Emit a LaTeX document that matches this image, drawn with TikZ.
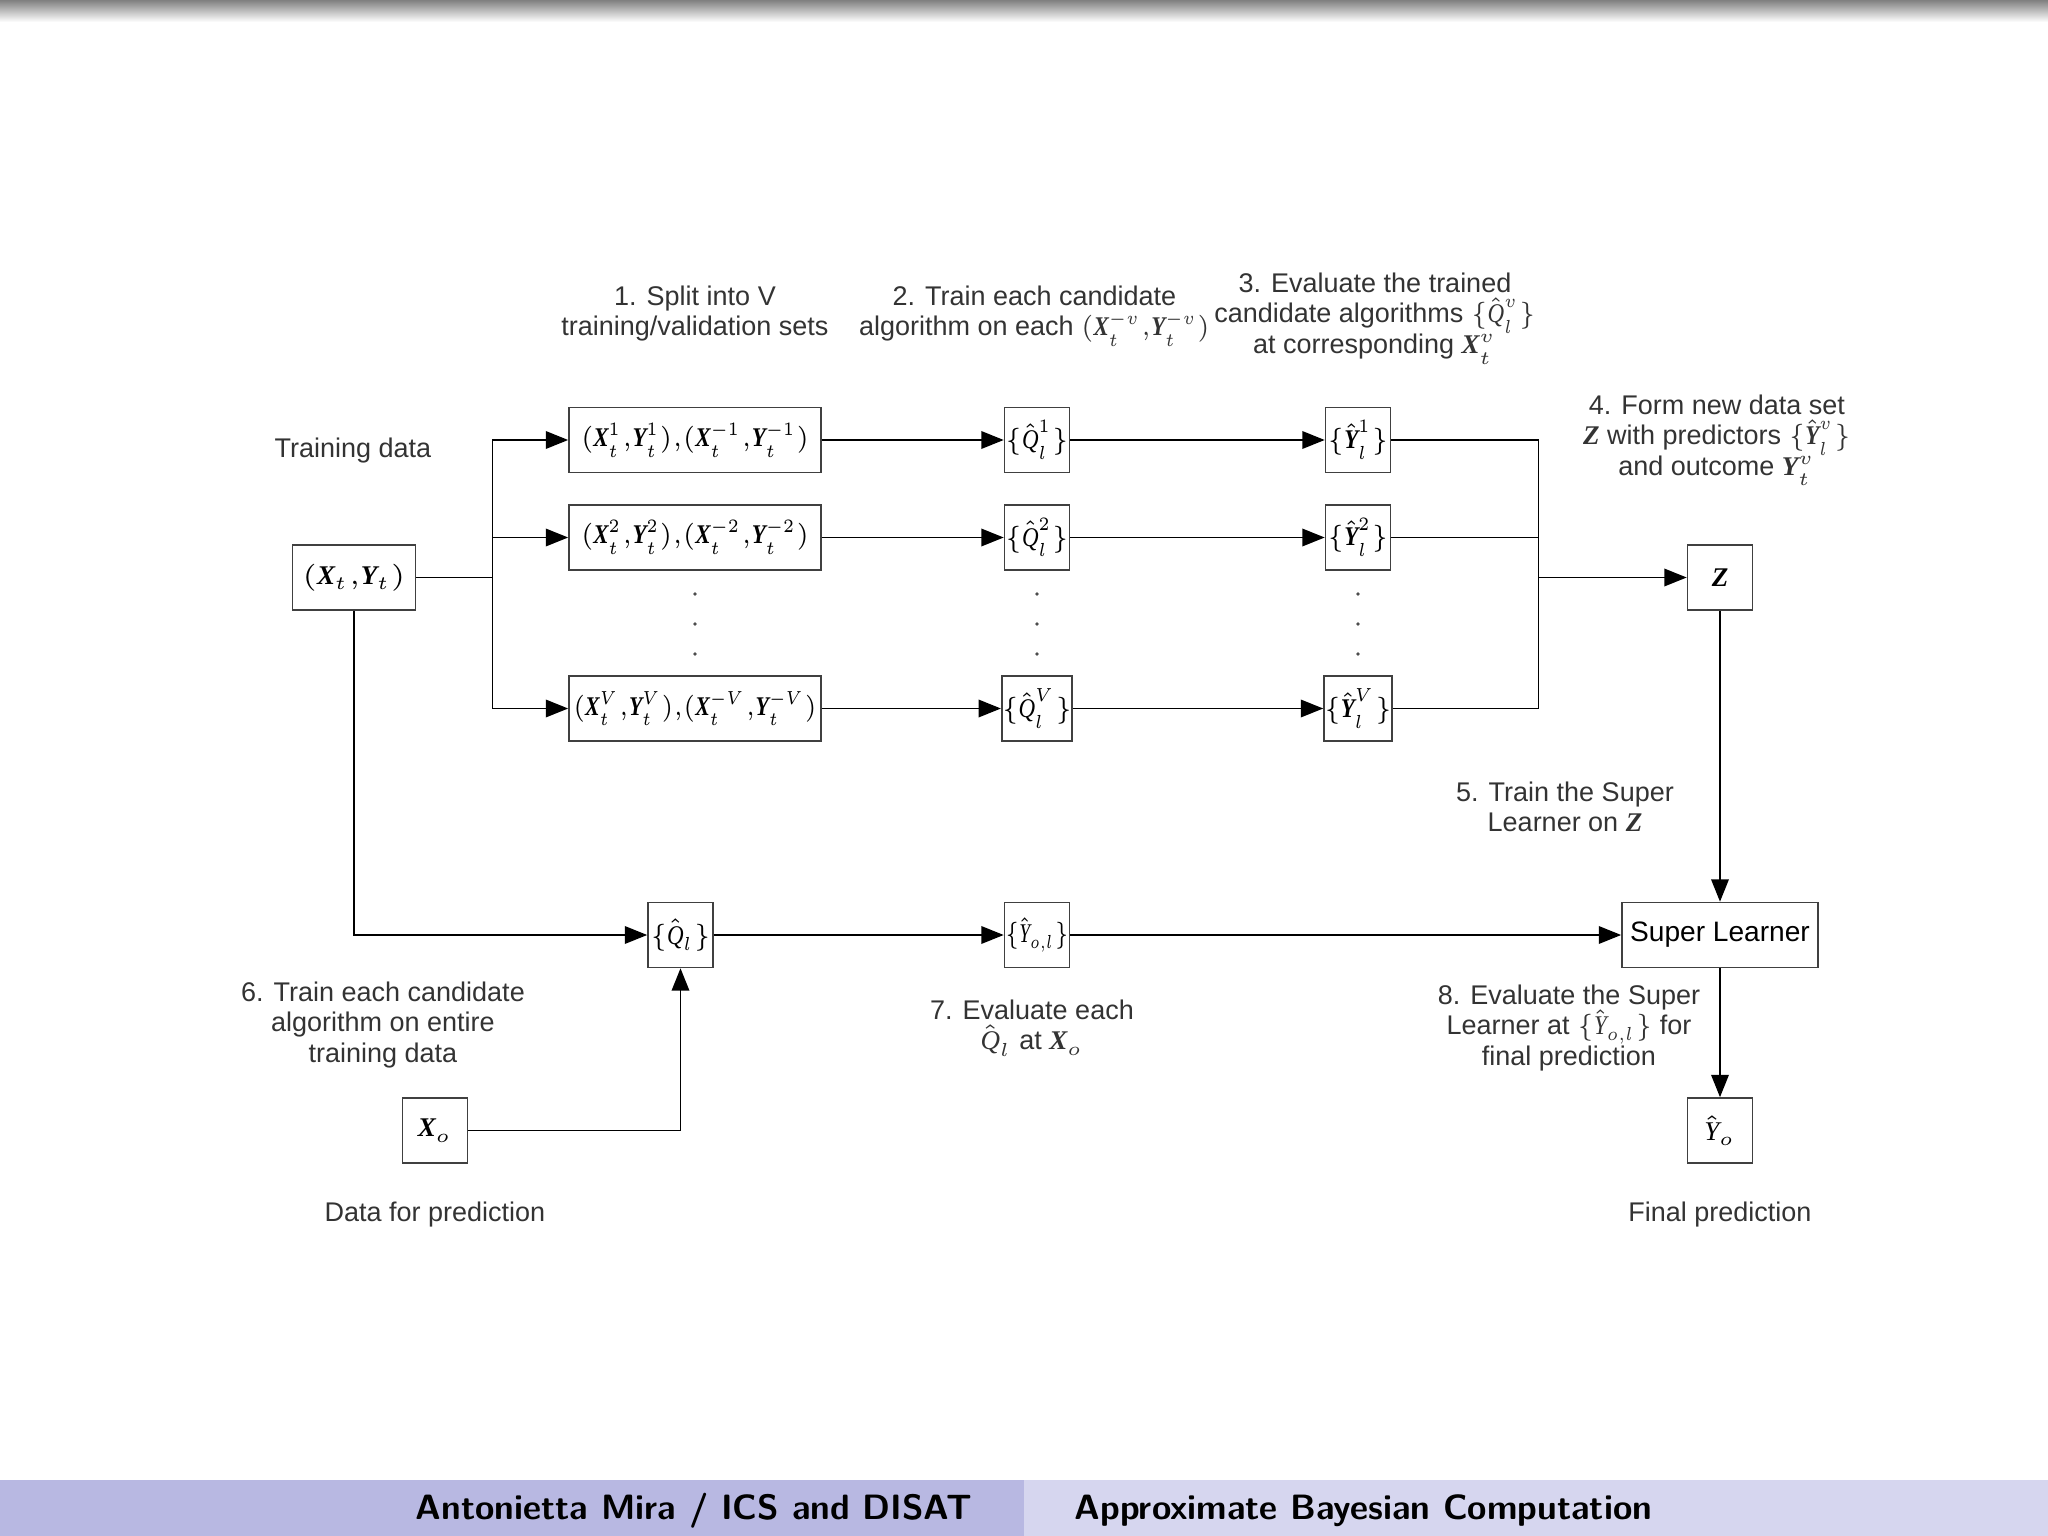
\RequirePackage{fix-cm}
\documentclass[tikz,border=0pt]{standalone}
\usepackage{fontspec}
\setmainfont{Liberation Sans}
\newfontfamily\serifmath{Liberation Serif}
\usepackage{amsmath}
\usepackage{graphicx}
\usetikzlibrary{arrows.meta}

\newcommand{\bv}[1]{\mbox{\serifmath\bfseries\itshape #1}}
\newcommand{\iv}[1]{\mbox{\serifmath\itshape #1}}
\newcommand{\narrow}[2][0.85]{\scalebox{#1}[1]{#2}}

\definecolor{footleft}{RGB}{184,184,226}
\definecolor{footright}{RGB}{214,214,239}

\tikzset{
  box/.style={draw=black!75, fill=white, inner sep=0pt, minimum width=4.06mm,
    minimum height=4.06mm, font=\fontsize{4.8}{5.4}\selectfont},
  widebox/.style={box, minimum width=15.75mm},
  note/.style={align=center, inner sep=0pt, text=black!80,
    font=\fontsize{4.8}{5.4}\selectfont},
  arr/.style={-{Triangle[length=1.4mm,width=1.1mm]}},
  footnote/.style={inner sep=0pt, font=\sffamily\bfseries\fontsize{6.25}{7}\selectfont}
}

\begin{document}
\begin{tikzpicture}[x=0.0625mm, y=-0.0625mm, line width=0.3pt]
    % slide frame and top shadow
    \useasboundingbox (0,0) rectangle (2048,1536);
    \shade[top color=black!50, bottom color=white] (0,0) rectangle (2048,22);

    % step labels
    \node[note] (step1) at (695,313.5) {1. Split into V\\training/validation sets};
    \node[note] (step2) at (1034.5,313.5) {2. Train each candidate\\algorithm on each \smash{\narrow{$(\bv{X}_t^{-v}{,}\bv{Y}_t^{-v})$}}};
    \node[note] (step3) at (1375,316) {3. Evaluate the trained\\candidate algorithms \smash{\narrow{$\{\hat{\iv{Q}}_l^v\}$}}\\at corresponding \smash{$\bv{X}_t^v$}};
    \node[note] (step4) at (1717,435) {4. Form new data set\\\smash{$\bv{Z}$} with predictors \smash{\narrow{$\{\hat{\bv{Y}}_l^v\}$}}\\and outcome \smash{$\bv{Y}_t^v$}};
    \node[note] (step5) at (1565,807) {5. Train the Super\\Learner on \smash{$\bv{Z}$}};
    \node[note] (step6) at (383,1025) {6. Train each candidate\\algorithm on entire\\training data};
    \node[note] (step7) at (1032,1025) {7. Evaluate each\\\smash{$\hat{\iv{Q}}_l$ at $\bv{X}_o$}};
    \node[note] (step8) at (1569,1028) {8. Evaluate the Super\\Learner at \smash{\narrow{$\{\hat{\iv{Y}}_{o,l}\}$}} for\\final prediction};

    % training data
    \node[note] (trainlbl) at (353,451) {Training data};
    \node[box, minimum width=7.7mm] (xy) at (354,577.5) {$(\bv{X}_t{,}\bv{Y}_t)$};
    \coordinate (fork) at (492.4,577.5);
    \coordinate (join) at (1538.6,577.5);
    \draw (xy) -- (fork);

    % V folds
    \foreach \k/\y/\sx in {1/440/0.85, 2/537.5/0.85, V/708.5/0.81} {
        \node[widebox] (s\k) at (695,\y) {\narrow[\sx]{$(\bv{X}_t^{\k}{,}\bv{Y}_t^{\k}){,}(\bv{X}_t^{-\k}{,}\bv{Y}_t^{-\k})$}};
        \node[box] (q\k) at (1037,\y) {\narrow{$\{\hat{\iv{Q}}_l^{\k}\}$}};
        \node[box] (y\k) at (1358,\y) {\narrow{$\{\hat{\bv{Y}}_l^{\k}\}$}};
        \draw[arr] (fork) |- (s\k);
        \draw[arr] (s\k) -- (q\k);
        \draw[arr] (q\k) -- (y\k);
        \draw (y\k) -| (join);
    }
    \foreach \x in {695,1037,1358}
        \foreach \y in {594,624,654}
            \fill[black!70] (\x,\y) circle (0.12mm);

    % new data set and super learner
    \node[box] (z) at (1720,577.5) {$\bv{Z}$};
    \draw[arr] (join) -- (z);
    \node[box, minimum width=12.25mm, font=\fontsize{5}{5.4}\selectfont] (sl) at (1720,935) {Super Learner};
    \draw[arr] (z) -- (sl);
    \node[box] (yo) at (1720,1130.5) {$\hat{\iv{Y}}_o$};
    \draw[arr] (sl) -- (yo);
    \node[note] (finallbl) at (1720,1215) {Final prediction};

    % full-data fit and prediction
    \node[box] (ql) at (680.5,935) {\narrow{$\{\hat{\iv{Q}}_l\}$}};
    \node[box] (yol) at (1037,935) {\narrow[0.72]{$\{\hat{\iv{Y}}_{o,l}\}$}};
    \node[box] (xo) at (435,1130.5) {$\bv{X}_o$};
    \node[note] (predlbl) at (435,1215) {Data for prediction};
    \draw[arr] (xy) |- (ql);
    \draw[arr] (xo) -| (ql);
    \draw[arr] (ql) -- (yol);
    \draw[arr] (yol) -- (sl);

    % footline
    \fill[footleft] (0,1480) rectangle (1024,1536);
    \fill[footright] (1024,1480) rectangle (2048,1536);
    \node[footnote, anchor=base east] (author) at (973,1519) {Antonietta Mira / ICS and DISAT};
    \node[footnote, anchor=base west] (title) at (1074,1519) {Approximate Bayesian Computation};
\end{tikzpicture}
\end{document}
